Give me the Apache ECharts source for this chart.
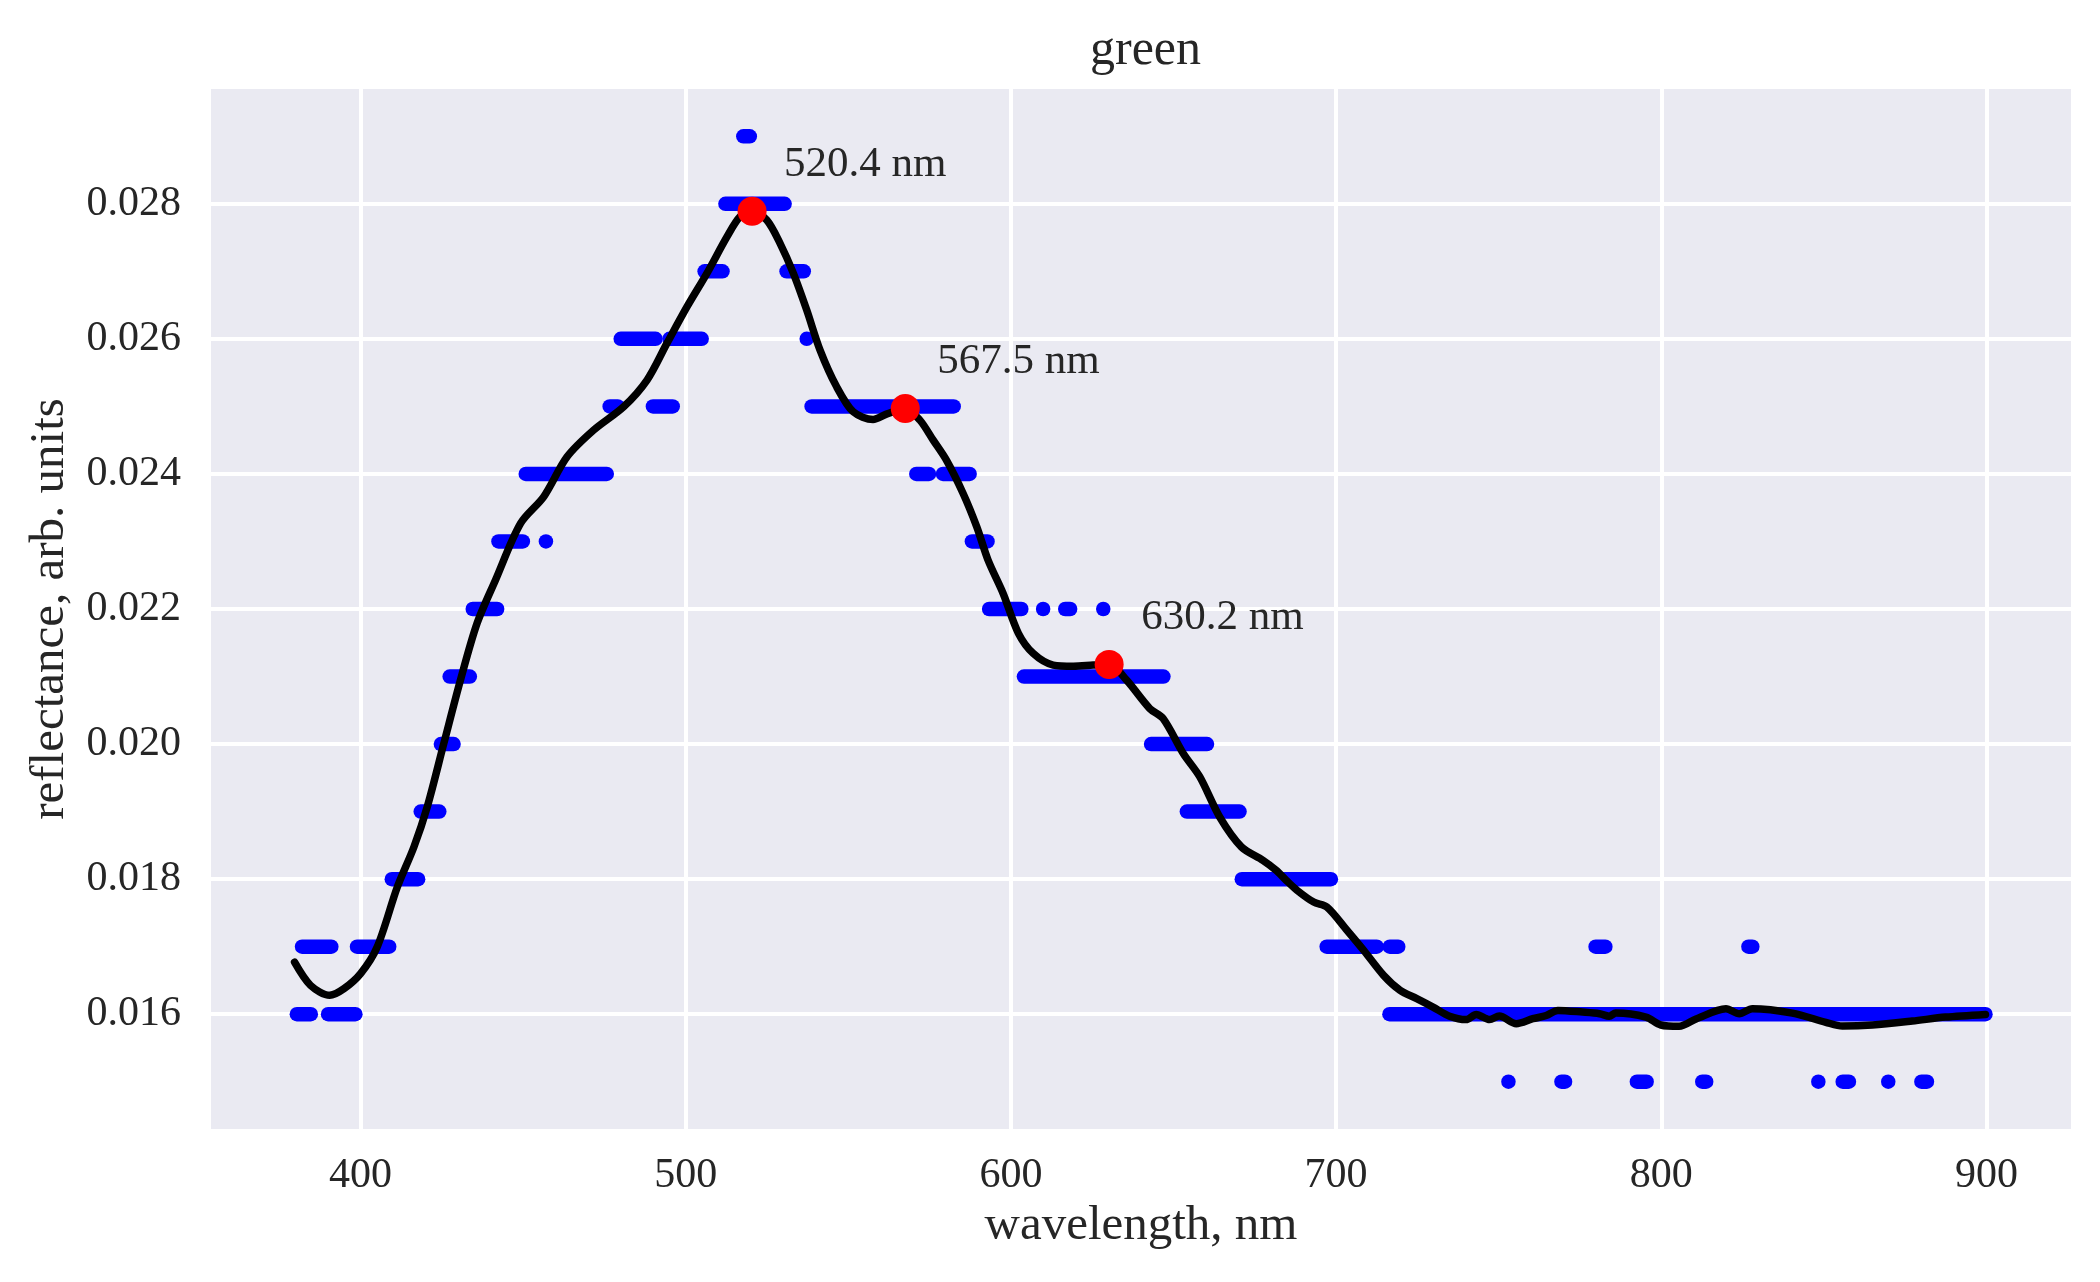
<!DOCTYPE html>
<html lang="en">
<head>
    <meta charset="UTF-8">
    <title>green</title>
    <script src="https://cdn.jsdelivr.net/npm/echarts@6/dist/echarts.min.js"></script>
    <style type="text/css">
        *{margin:0;padding:0;}
        html, body{width:100%;height:100%;background:#fff;}
        #main{width:2100px;height:1282px;}
    </style>
</head>
<body>
<div id="main"></div>
<script type="text/javascript">
    // raw measurements: runs of (quantised) points, [from nm, to nm, reflectance]
    var dotRuns = [
        [380.4, 384.7, 0.016], [390.0, 398.4, 0.016],
        [382.0, 391.0, 0.017], [398.9, 408.8, 0.017],
        [409.6, 417.7, 0.018],
        [418.5, 424.2, 0.019],
        [424.7, 428.6, 0.020],
        [427.4, 433.6, 0.021],
        [434.5, 442.0, 0.022],
        [442.4, 449.9, 0.023], [457.0, 457.0, 0.023],
        [450.8, 475.7, 0.024],
        [476.6, 479.1, 0.025], [489.9, 496.0, 0.025],
        [480.0, 490.7, 0.026], [495.0, 504.9, 0.026],
        [505.8, 511.3, 0.027], [531.0, 536.3, 0.027],
        [512.2, 530.4, 0.028],
        [517.7, 519.7, 0.029],
        [537.2, 537.2, 0.026],
        [538.7, 582.4, 0.025],
        [570.9, 574.8, 0.024], [579.1, 587.3, 0.024],
        [588.0, 592.8, 0.023],
        [593.3, 603.2, 0.022], [609.9, 609.9, 0.022], [616.7, 618.2, 0.022], [628.4, 628.4, 0.022],
        [604.0, 646.9, 0.021],
        [643.1, 660.3, 0.020],
        [654.1, 670.3, 0.019],
        [671.0, 698.4, 0.018],
        [697.1, 712.5, 0.017], [716.5, 719.1, 0.017], [779.8, 782.8, 0.017], [826.8, 828.0, 0.017],
        [716.4, 899.7, 0.016],
        [753.0, 753.0, 0.015], [769.3, 770.4, 0.015], [792.5, 795.5, 0.015], [812.6, 813.8, 0.015],
        [848.3, 848.3, 0.015], [855.8, 857.7, 0.015], [869.8, 869.8, 0.015], [880.0, 881.7, 0.015]
    ];

    // smoothed curve
    var smoothWl = [379.7, 384.6, 390.5, 394.9, 400.0, 405.1, 411.3, 416.4, 420.5, 425.6,
        430.7, 435.8, 441.5, 449.2, 456.3, 463.5, 471.7, 480.9, 488.1, 494.2,
        500.4, 506.5, 512.7, 516.7, 520.4, 524.9, 529.0, 533.1, 537.2, 541.3,
        546.4, 551.5, 557.6, 561.7, 567.5, 572.0, 576.1, 580.2, 585.3, 589.5,
        593.0, 597.6, 602.3, 606.9, 613.0, 619.2, 625.3, 630.2, 635.5, 642.7,
        646.8, 653.0, 658.1, 664.2, 670.9, 677.5, 681.6, 684.7, 688.0, 693.1,
        697.2, 703.4, 708.5, 714.6, 719.7, 724.8, 729.8, 734.9, 740.0, 743.1,
        747.2, 750.2, 755.4, 760.5, 764.6, 768.2, 775.8, 781.0, 784.0, 786.0,
        795.3, 799.9, 805.5, 810.7, 819.9, 824.0, 828.0, 840.3, 850.6, 855.7,
        864.9, 877.2, 887.4, 899.7];
    var smoothRefl = [0.01677, 0.016427, 0.01628, 0.016378, 0.0166, 0.016994, 0.017883, 0.018476, 0.01907, 0.02001,
        0.020945, 0.021785, 0.02243, 0.023267, 0.02366, 0.024253, 0.02465, 0.024994, 0.02539, 0.025933,
        0.026476, 0.02697, 0.027513, 0.027809, 0.02789, 0.02776, 0.027415, 0.02697, 0.026427, 0.025834,
        0.02529, 0.02492, 0.024807, 0.024886, 0.02497, 0.024797, 0.0245, 0.0242, 0.02371, 0.023216,
        0.02272, 0.02223, 0.02164, 0.02134, 0.02117, 0.021153, 0.02117, 0.02118, 0.02095, 0.020526,
        0.020378, 0.01986, 0.019513, 0.01892, 0.018476, 0.018279, 0.01813, 0.01798, 0.017834, 0.01766,
        0.017587, 0.01724, 0.016945, 0.016575, 0.016353, 0.01623, 0.016105, 0.01597, 0.01592, 0.015997,
        0.01592, 0.015973, 0.01586, 0.015933, 0.01598, 0.016056, 0.016031, 0.016007, 0.01597, 0.016016,
        0.015957, 0.01584, 0.01582, 0.01593, 0.016081, 0.016007, 0.016081, 0.016016, 0.01588, 0.015824,
        0.015839, 0.015898, 0.015957, 0.015997];

    // peaks
    var peakWl = [520.4, 567.5, 630.2];
    var peakRefl = [0.02789, 0.02497, 0.02118];

    var FONT = "'Liberation Serif', 'DejaVu Serif', serif";
    var TXT = '#262626';
    var DOT = 14.5;

    var lineData = [];
    for (var i = 0; i < smoothWl.length; i++) {
        lineData.push([smoothWl[i], smoothRefl[i]]);
    }
    var peakData = [];
    for (var j = 0; j < peakWl.length; j++) {
        peakData.push([peakWl[j], peakRefl[j]]);
    }

    var myChart = echarts.init(document.getElementById('main'), null, {renderer: 'canvas'});
    var option = {
        backgroundColor: '#ffffff',
        animation: false,
        title: {
            text: 'green',
            left: 1085,
            top: 21,
            textStyle: {
                fontFamily: FONT,
                fontWeight: 'normal',
                fontSize: 50,
                color: TXT
            }
        },
        grid: {
            left: 211,
            right: 29,
            top: 89,
            bottom: 153,
            show: true,
            backgroundColor: '#EAEAF2',
            borderWidth: 0
        },
        xAxis: {
            type: 'value',
            min: 354,
            max: 926,
            splitNumber: 5,
            minInterval: 100,
            maxInterval: 100,
            name: 'wavelength, nm',
            nameLocation: 'middle',
            nameGap: 70,
            nameTextStyle: {fontFamily: FONT, fontSize: 49, color: TXT},
            axisLine: {show: false},
            axisTick: {show: false},
            axisLabel: {
                margin: 26,
                fontFamily: FONT,
                fontSize: 42,
                color: TXT,
                showMinLabel: false,
                showMaxLabel: false
            },
            splitLine: {
                show: true,
                showMinLine: false,
                showMaxLine: false,
                lineStyle: {color: '#ffffff', width: 4}
            }
        },
        yAxis: {
            type: 'value',
            min: 0.0143,
            max: 0.0297,
            splitNumber: 7,
            minInterval: 0.002,
            maxInterval: 0.002,
            name: 'reflectance, arb. units',
            nameLocation: 'middle',
            nameGap: 136,
            nameTextStyle: {fontFamily: FONT, fontSize: 49, color: TXT},
            axisLine: {show: false},
            axisTick: {show: false},
            axisLabel: {
                margin: 30,
                fontFamily: FONT,
                fontSize: 42,
                color: TXT,
                showMinLabel: false,
                showMaxLabel: false,
                formatter: function (v) { return v.toFixed(3); }
            },
            splitLine: {
                show: true,
                showMinLine: false,
                showMaxLine: false,
                lineStyle: {color: '#ffffff', width: 4}
            }
        },
        series: [{
            name: 'raw',
            type: 'custom',
            z: 2,
            encode: {x: [0, 1], y: 2},
            data: dotRuns,
            renderItem: function (params, api) {
                var a = api.coord([api.value(0), api.value(2)]);
                var b = api.coord([api.value(1), api.value(2)]);
                var r = DOT / 2;
                return {
                    type: 'rect',
                    shape: {x: a[0] - r, y: a[1] - r, width: b[0] - a[0] + DOT, height: DOT, r: r},
                    style: {fill: '#0000ff'}
                };
            }
        }, {
            name: 'smooth',
            type: 'line',
            z: 3,
            data: lineData,
            showSymbol: false,
            smooth: 0.3,
            lineStyle: {color: '#000000', width: 7.5, cap: 'round', join: 'round'}
        }, {
            name: 'peaks',
            type: 'scatter',
            z: 4,
            data: peakData,
            symbolSize: 29,
            itemStyle: {color: '#ff0000', opacity: 1},
            label: {
                show: true,
                position: 'inside',
                align: 'left',
                verticalAlign: 'middle',
                offset: [32, -47],
                fontFamily: FONT,
                fontSize: 43,
                color: TXT,
                opacity: 1,
                formatter: function (p) { return p.value[0].toFixed(1) + ' nm'; }
            }
        }]
    };
    myChart.setOption(option);
    window.onresize = myChart.resize;
</script>
</body>
</html>
